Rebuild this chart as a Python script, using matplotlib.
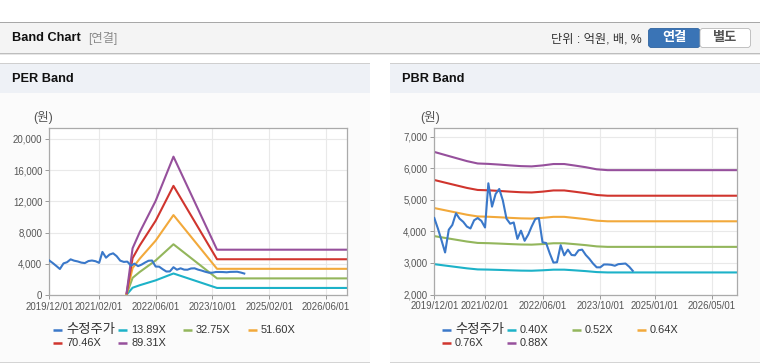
import matplotlib
matplotlib.use('Agg')
import matplotlib.pyplot as plt
from matplotlib.patches import Rectangle, FancyBboxPatch
import pandas as pd

plt.rcParams['font.family'] = ['Liberation Sans', 'Noto Sans CJK KR']

# adjusted share price (수정주가), monthly from 2019/12
price = [4420, 4080, 3700, 3330, 4050, 4200, 4570, 4400, 4300, 4150,
         4090, 4350, 4420, 4330, 4120, 5520, 4780, 5180, 5340, 4980,
         4400, 4240, 4280, 3760, 4020, 3700, 3900, 4150, 4390, 4420,
         3650, 3630, 3300, 3010, 3020, 3560, 3240, 3420, 3250, 3240,
         3400, 3420, 3250, 3130, 2980, 2860, 2860, 2950, 2950, 2940,
         2910, 2960, 2970, 2980, 2880, 2750]
price_dates = pd.date_range('2019-12-01', periods=len(price), freq='MS')

# EPS behind the PER band
eps_dates = pd.to_datetime(['2021-09-25', '2021-11-15', '2022-01-15', '2022-06-01',
                            '2022-11-01', '2023-11-10', '2026-11-30'])
eps = [3, 67, 90, 135, 198.5, 65, 65]
per_mult = [13.89, 32.75, 51.60, 70.46, 89.31]

# BPS behind the PBR band, quarterly
bps_dates = list(pd.date_range('2019-12-01', periods=17, freq='3MS')) + [pd.Timestamp('2026-11-30')]
bps = [7400, 7290, 7180, 7070, 6985, 6970, 6945, 6915, 6890, 6880,
       6915, 6965, 6965, 6910, 6850, 6775, 6745, 6745]
pbr_mult = [0.40, 0.52, 0.64, 0.76, 0.88]

per_ticks = ['2019/12/01', '2021/02/01', '2022/06/01', '2023/10/01', '2025/02/01', '2026/06/01']
pbr_ticks = ['2019/12/01', '2021/02/01', '2022/06/01', '2023/10/01', '2025/01/01', '2026/05/01']

price_color = '#3a78c9'
band_colors = ['#1db2c8', '#93b65c', '#f2a93b', '#d0352e', '#96509c']

fig = plt.figure(figsize=(7.6, 3.64), dpi=100)

# page background drawn in pixel coordinates
bg = fig.add_axes([0, 0, 1, 1], zorder=0)
bg.set_xlim(0, 760)
bg.set_ylim(364, 0)
bg.axis('off')

bg.add_patch(Rectangle((0, 22), 760, 1, fc='#a8a8a8', ec='none'))
bg.add_patch(Rectangle((0, 23), 760, 30, fc='#f4f4f4', ec='none'))
bg.add_patch(Rectangle((0, 52.5), 760, 1, fc='#bdbdbd', ec='none'))
bg.add_patch(Rectangle((0, 53.5), 760, 1.5, fc='#e6e6e6', ec='none'))
bg.text(12, 38, 'Band Chart', fontsize=9.2, fontweight='bold', color='#111', va='center')
bg.text(88, 38.5, '[연결]', fontsize=8.8, color='#8a8a8a', va='center')
bg.text(642, 39, '단위 : 억원, 배, %', fontsize=8.8, color='#333', va='center', ha='right')
bg.add_patch(FancyBboxPatch((648.5, 28.5), 51.5, 19, boxstyle='round,pad=0,rounding_size=3',
                            fc='#3a74b6', ec='#2f64a0', lw=0.6))
bg.add_patch(FancyBboxPatch((700, 28.5), 50.5, 19, boxstyle='round,pad=0,rounding_size=3',
                            fc='#ffffff', ec='#b8b8b8', lw=0.6))
bg.text(674, 38.5, '연결', fontsize=9.5, fontweight='bold', color='white', ha='center', va='center')
bg.text(725, 38.5, '별도', fontsize=9.5, fontweight='bold', color='#555', ha='center', va='center')

for x0, title in [(0, 'PER Band'), (390, 'PBR Band')]:
    bg.add_patch(Rectangle((x0, 63), 370, 1, fc='#cfcfcf', ec='none'))
    bg.add_patch(Rectangle((x0, 64), 370, 29, fc='#eef1f6', ec='none'))
    bg.add_patch(Rectangle((x0, 93), 370, 268.5, fc='#fbfbfb', ec='none'))
    bg.add_patch(Rectangle((x0, 361.5), 370, 1, fc='#d4d4d4', ec='none'))
    bg.text(x0 + 12, 79, title, fontsize=9.2, fontweight='bold', color='#111', va='center')


def band_panel(rect, base_dates, base, mults, ticks, ylim, yticks):
    ax = fig.add_axes(rect, zorder=1)
    ax.set_facecolor('white')
    for m, c in zip(mults, band_colors):
        ax.plot(base_dates, [b * m for b in base], color=c, lw=1.5, zorder=2)
    ax.plot(price_dates, price, color=price_color, lw=1.5, zorder=3)
    ax.set_xlim(pd.Timestamp('2019-12-01'), pd.Timestamp('2026-11-30'))
    ax.set_ylim(*ylim)
    tick_dates = pd.to_datetime(ticks, format='%Y/%m/%d')
    ax.set_xticks(tick_dates)
    ax.set_xticklabels(ticks)
    ax.set_yticks(yticks)
    ax.set_yticklabels([f'{v:,}' for v in yticks])
    ax.grid(True, color='#e9e9e9', lw=0.8)
    ax.set_axisbelow(True)
    for s in ax.spines.values():
        s.set_color('#aaaaaa')
        s.set_linewidth(0.9)
    ax.tick_params(length=3, width=0.7, color='#999999', labelsize=6.9,
                   labelcolor='#555555', pad=2)
    return ax


band_panel([49.3 / 760, (364 - 295) / 364, (347 - 49.3) / 760, (295 - 128) / 364],
           eps_dates, eps, per_mult, per_ticks, (0, 21400), list(range(0, 20001, 4000)))
band_panel([434.3 / 760, (364 - 294.5) / 364, (737.3 - 434.3) / 760, (294.5 - 128.3) / 364],
           bps_dates, bps, pbr_mult, pbr_ticks, (2000, 7260), list(range(2000, 7001, 1000)))

bg.text(43, 117, '(원)', fontsize=9, color='#555', ha='center', va='center')
bg.text(430, 117, '(원)', fontsize=9, color='#555', ha='center', va='center')

# legends
for x0, mults in [(53, per_mult), (442, pbr_mult)]:
    labels = ['수정주가'] + [f'{m:.2f}X' for m in mults]
    colors = [price_color] + band_colors
    for i, (lab, c) in enumerate(zip(labels, colors)):
        r, k = divmod(i, 4)
        x = x0 + [0, 65, 130, 194.5][k]
        y = 330 + 13 * r
        bg.plot([x, x + 9], [y, y], color=c, lw=1.8, solid_capstyle='butt')
        size = 9.6 if i == 0 else 7.9
        bg.text(x + 13, y, lab, fontsize=size, color='#333', va='center')

fig.savefig('out.png', dpi=100)
